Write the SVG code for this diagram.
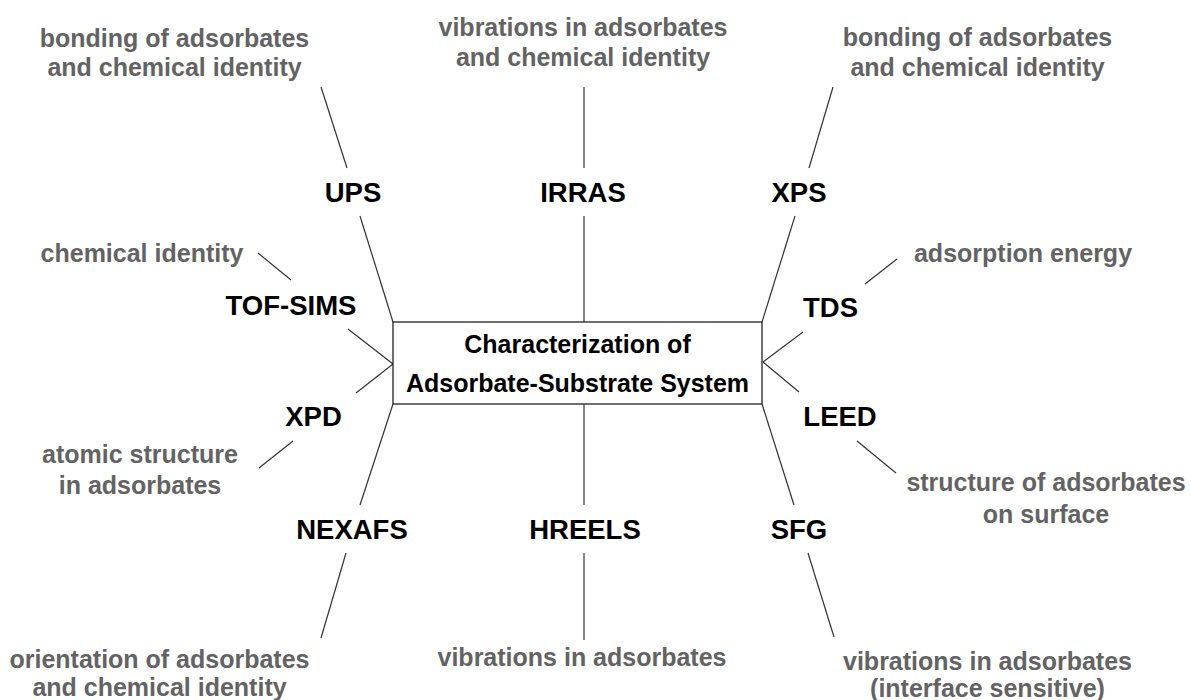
<svg xmlns="http://www.w3.org/2000/svg" width="1191" height="700" viewBox="0 0 1191 700">
<style>
.d{font-family:"Liberation Sans",Arial,sans-serif;font-weight:bold;font-size:25px;fill:#636363;text-anchor:middle}
.m{font-family:"Liberation Sans",Arial,sans-serif;font-weight:bold;font-size:27.5px;fill:#000;text-anchor:middle}
.c{font-family:"Liberation Sans",Arial,sans-serif;font-weight:bold;font-size:25px;fill:#000;text-anchor:middle}
.l{stroke:#333;stroke-width:1.2;fill:none}
</style>
<rect width="1191" height="700" fill="#fff"/>
<g id="connectors">
<line class="l" x1="321" y1="87" x2="347" y2="168"/>
<line class="l" x1="360" y1="216" x2="393" y2="322"/>
<line class="l" x1="584" y1="87" x2="584" y2="168"/>
<line class="l" x1="584" y1="216" x2="584" y2="322"/>
<line class="l" x1="833" y1="87" x2="809" y2="168"/>
<line class="l" x1="795" y1="216" x2="762" y2="322"/>
<line class="l" x1="258" y1="253" x2="291" y2="280"/>
<line class="l" x1="348" y1="329" x2="393" y2="364"/>
<line class="l" x1="356" y1="393" x2="393" y2="364"/>
<line class="l" x1="293" y1="441" x2="259" y2="468"/>
<line class="l" x1="393" y1="404" x2="360" y2="505"/>
<line class="l" x1="346" y1="553" x2="321" y2="638"/>
<line class="l" x1="584" y1="404" x2="584" y2="505"/>
<line class="l" x1="584" y1="553" x2="584" y2="640"/>
<line class="l" x1="762" y1="404" x2="794" y2="505"/>
<line class="l" x1="808" y1="553" x2="834" y2="637"/>
<line class="l" x1="865" y1="284" x2="897" y2="259"/>
<line class="l" x1="803" y1="332" x2="763" y2="362"/>
<line class="l" x1="763" y1="362" x2="799" y2="392"/>
<line class="l" x1="857" y1="441" x2="896" y2="473"/>
</g>
<g id="center">
<rect x="393" y="322" width="369" height="82" fill="#fff" stroke="#222" stroke-width="1.3"/>
<text class="c" x="577.5" y="353">Characterization of</text>
<text class="c" x="577.5" y="392">Adsorbate-Substrate System</text>
</g>
<g id="UPS"><text class="m" x="353" y="202">UPS</text><text class="d" x="174.5" y="47">bonding of adsorbates</text><text class="d" x="174.5" y="76">and chemical identity</text></g>
<g id="IRRAS"><text class="m" x="583" y="202">IRRAS</text><text class="d" x="583" y="36">vibrations in adsorbates</text><text class="d" x="583" y="66">and chemical identity</text></g>
<g id="XPS"><text class="m" x="799" y="202">XPS</text><text class="d" x="977.5" y="46">bonding of adsorbates</text><text class="d" x="977.5" y="76">and chemical identity</text></g>
<g id="TOF-SIMS"><text class="m" x="291" y="315">TOF-SIMS</text><text class="d" x="142" y="262">chemical identity</text></g>
<g id="TDS"><text class="m" x="830.5" y="317">TDS</text><text class="d" x="1023" y="262">adsorption energy</text></g>
<g id="XPD"><text class="m" x="313.5" y="426">XPD</text><text class="d" x="140" y="463">atomic structure</text><text class="d" x="140" y="494">in adsorbates</text></g>
<g id="LEED"><text class="m" x="840" y="426">LEED</text><text class="d" x="1046" y="491">structure of adsorbates</text><text class="d" x="1046" y="523">on surface</text></g>
<g id="NEXAFS"><text class="m" x="352" y="539">NEXAFS</text><text class="d" x="159.5" y="668">orientation of adsorbates</text><text class="d" x="159.5" y="696">and chemical identity</text></g>
<g id="HREELS"><text class="m" x="585" y="539">HREELS</text><text class="d" x="582" y="666">vibrations in adsorbates</text></g>
<g id="SFG"><text class="m" x="799" y="539">SFG</text><text class="d" x="987.5" y="670">vibrations in adsorbates</text><text class="d" x="987.5" y="697">(interface sensitive)</text></g>
</svg>
